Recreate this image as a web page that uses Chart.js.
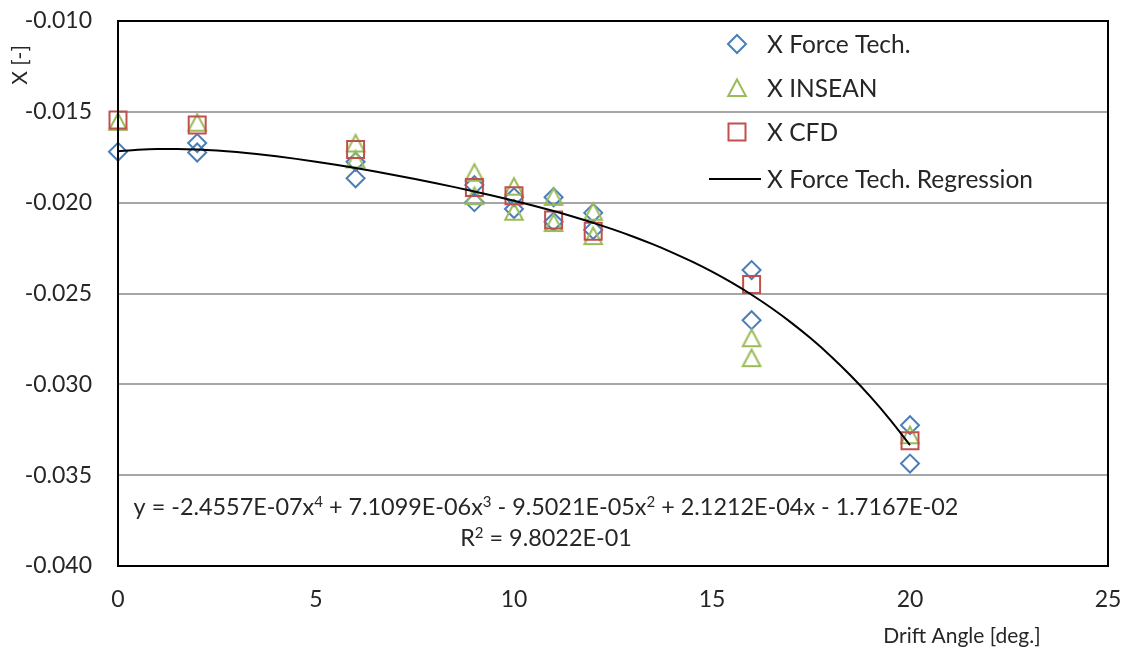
<!DOCTYPE html>
<html>
<head>
<meta charset="utf-8">
<script src="https://cdn.jsdelivr.net/npm/chart.js@4/dist/chart.umd.min.js"></script>
<style>
  html, body { margin: 0; padding: 0; background: #ffffff; }
  #wrap { width: 1128px; height: 649px; }
</style>
</head>
<body>
<div id="wrap"><canvas id="c" width="1128" height="649"></canvas></div>
<script>
// Surge force coefficient X versus drift angle, three data sources.
const forceTechAngle = [0, 2, 2, 6, 6, 9, 9, 10, 10, 11, 11, 12, 12, 16, 16, 20, 20];
const forceTechX = [-0.0172, -0.01672, -0.01724, -0.01775, -0.01866, -0.01903, -0.01997,
  -0.0197, -0.02035, -0.0197, -0.02105, -0.02056, -0.0215, -0.02371, -0.02647, -0.03225, -0.03436];

const inseanAngle = [0, 2, 6, 6, 9, 9, 10, 10, 11, 11, 12, 12, 16, 16, 20];
const inseanX = [-0.01555, -0.0156, -0.01674, -0.01762, -0.01835, -0.01964, -0.01912, -0.0205,
  -0.01968, -0.02112, -0.0205, -0.02184, -0.02746, -0.02856, -0.0328];

const cfdAngle = [0, 2, 6, 9, 10, 11, 12, 16, 20];
const cfdX = [-0.01545, -0.01573, -0.01707, -0.01916, -0.01962, -0.02096, -0.02157, -0.0245, -0.03311];

// 4th-order polynomial regression of the Force Tech. data (highest power first) and its R².
const trendCoefficients = [-2.4557E-07, 7.1099E-06, -9.5021E-05, 2.1212E-04, -1.7167E-02];
const trendRSquared = 9.8022E-01;
const trendAngles = [0, 0.5, 1, 1.5, 2, 2.5, 3, 3.5, 4, 4.5, 5, 5.5, 6, 6.5, 7, 7.5, 8, 8.5, 9, 9.5,
  10, 10.5, 11, 11.5, 12, 12.5, 13, 13.5, 14, 14.5, 15, 15.5, 16, 16.5, 17, 17.5, 18, 18.5, 19, 19.5, 20];

const seriesNames = ['X Force Tech.', 'X INSEAN', 'X CFD', 'X Force Tech. Regression'];
const xTickValues = [0, 5, 10, 15, 20, 25];
const yTickValues = [-0.040, -0.035, -0.030, -0.025, -0.020, -0.015, -0.010];
const xAxisTitle = 'Drift Angle [deg.]';
const yAxisTitle = 'X [-]';

const BLUE = '#4a7ebb';
const GREEN = '#9bbb59';
const RED = '#c0504d';
const TEXT = '#262626';
const FONT = 'Lato, "Open Sans", sans-serif';
const TICK_SIZE = 23;
const LEGEND_SIZE = 24.5;
const EQ_SIZE = 23.4;
const TITLE_SIZE = 21;

function evalTrend(x) {
  return trendCoefficients.reduce((acc, c) => acc * x + c, 0);
}
function pairs(xs, ys) { return xs.map((x, i) => ({ x, y: ys[i] })); }

// Hollow triangle centred on its own box.
function makeTriangle(color) {
  const cv = document.createElement('canvas');
  cv.width = 24; cv.height = 24;
  const g = cv.getContext('2d');
  g.strokeStyle = color; g.lineWidth = 2; g.lineJoin = 'miter';
  g.beginPath();
  g.moveTo(12, 3.5); g.lineTo(20.8, 20); g.lineTo(3.2, 20); g.closePath();
  g.stroke();
  return cv;
}
const triangleImg = makeTriangle(GREEN);

function fmtE(v) {
  const [m, e] = Math.abs(v).toExponential(4).split('e');
  const en = parseInt(e, 10);
  const es = (en < 0 ? '-' : '+') + String(Math.abs(en)).padStart(2, '0');
  return m + 'E' + es;
}

function equationSegments() {
  const n = trendCoefficients.length - 1;
  const segs = [{ t: 'y = ' }];
  trendCoefficients.forEach((c, i) => {
    const p = n - i;
    const sign = c < 0 ? '-' : '+';
    if (i === 0) segs.push({ t: (c < 0 ? '-' : '') + fmtE(c) });
    else segs.push({ t: ' ' + sign + ' ' + fmtE(c) });
    if (p >= 1) segs.push({ t: 'x' });
    if (p >= 2) segs.push({ t: String(p), sup: true });
  });
  return segs;
}

function drawRich(ctx, segs, cx, cy, size) {
  const big = size + 'px ' + FONT;
  const small = Math.round(size * 0.62) + 'px ' + FONT;
  let w = 0;
  segs.forEach(s => { ctx.font = s.sup ? small : big; s.w = ctx.measureText(s.t).width; w += s.w; });
  let x = cx - w / 2;
  ctx.textAlign = 'left';
  ctx.textBaseline = 'alphabetic';
  const base = cy + size * 0.36;
  segs.forEach(s => {
    ctx.font = s.sup ? small : big;
    ctx.fillText(s.t, x, s.sup ? base - size * 0.38 : base);
    x += s.w;
  });
}

const decorations = {
  id: 'decorations',
  afterDatasetsDraw(chart) {
    const ctx = chart.ctx;
    const a = chart.chartArea;
    ctx.save();
    // plot frame
    ctx.strokeStyle = '#000000';
    ctx.lineWidth = 2;
    ctx.strokeRect(a.left, a.top, a.right - a.left, a.bottom - a.top);

    ctx.fillStyle = TEXT;
    // regression equation and R²
    drawRich(ctx, equationSegments(), 546, 507, EQ_SIZE);
    drawRich(ctx, [{ t: 'R' }, { t: '2', sup: true }, { t: ' = ' + fmtE(trendRSquared) }], 546, 538, EQ_SIZE);

    // legend
    ctx.font = LEGEND_SIZE + 'px ' + FONT;
    ctx.textAlign = 'left';
    ctx.textBaseline = 'middle';
    const lx = 737, tx = 767;
    const rows = [44, 88, 132, 179];
    ctx.lineWidth = 2;
    // diamond
    ctx.strokeStyle = BLUE;
    ctx.beginPath();
    ctx.moveTo(lx - 9, rows[0]); ctx.lineTo(lx, rows[0] - 9); ctx.lineTo(lx + 9, rows[0]); ctx.lineTo(lx, rows[0] + 9);
    ctx.closePath(); ctx.stroke();
    // triangle
    ctx.drawImage(triangleImg, lx - 12, rows[1] - 12);
    // square
    ctx.strokeStyle = RED;
    ctx.strokeRect(lx - 8.5, rows[2] - 8.5, 17, 17);
    // line
    ctx.strokeStyle = '#000000';
    ctx.beginPath(); ctx.moveTo(709, rows[3]); ctx.lineTo(761, rows[3]); ctx.stroke();
    seriesNames.forEach((name, i) => ctx.fillText(name, tx, rows[i] + 1));

    // axis titles
    ctx.font = TITLE_SIZE + 'px ' + FONT;
    ctx.textAlign = 'center';
    ctx.fillText(xAxisTitle, 962, 636);
    ctx.save();
    ctx.translate(20, 65);
    ctx.rotate(-Math.PI / 2);
    ctx.fillText(yAxisTitle, 0, 0);
    ctx.restore();
    ctx.restore();
  }
};

new Chart(document.getElementById('c'), {
  type: 'scatter',
  data: {
    datasets: [
      {
        label: seriesNames[3],
        type: 'line',
        data: pairs(trendAngles, trendAngles.map(evalTrend)),
        borderColor: '#000000',
        borderWidth: 2,
        pointRadius: 0,
        cubicInterpolationMode: 'monotone',
        fill: false,
        order: 0
      },
      {
        label: seriesNames[2],
        data: pairs(cfdAngle, cfdX),
        pointStyle: 'rect',
        pointRadius: 12,
        borderColor: RED,
        backgroundColor: 'rgba(0,0,0,0)',
        borderWidth: 2,
        clip: false,
        order: 1
      },
      {
        label: seriesNames[1],
        data: pairs(inseanAngle, inseanX),
        pointStyle: triangleImg,
        pointRadius: 12,
        borderColor: GREEN,
        backgroundColor: 'rgba(0,0,0,0)',
        clip: false,
        order: 2
      },
      {
        label: seriesNames[0],
        data: pairs(forceTechAngle, forceTechX),
        pointStyle: 'rectRot',
        pointRadius: 9,
        borderColor: BLUE,
        backgroundColor: 'rgba(0,0,0,0)',
        borderWidth: 2,
        clip: false,
        order: 3
      }
    ]
  },
  options: {
    responsive: false,
    animation: false,
    devicePixelRatio: 1,
    events: [],
    layout: { padding: { left: 0, top: 21, right: 20, bottom: 0 } },
    plugins: { legend: { display: false }, tooltip: { enabled: false } },
    scales: {
      x: {
        type: 'linear',
        min: 0, max: 25,
        afterFit(s) { s.height = 83; s.paddingLeft = 0; s.paddingRight = 0; },
        afterBuildTicks(s) { s.ticks = xTickValues.map(v => ({ value: v })); },
        ticks: { color: TEXT, font: { family: FONT, size: TICK_SIZE }, padding: 20, maxRotation: 0,
          callback: v => String(v) },
        grid: { display: false, drawTicks: false },
        border: { display: true, color: '#000000', width: 2 }
      },
      y: {
        type: 'linear',
        min: -0.040, max: -0.010,
        afterFit(s) { s.width = 118; s.paddingTop = 0; s.paddingBottom = 0; },
        afterBuildTicks(s) { s.ticks = yTickValues.map(v => ({ value: v })); },
        ticks: { color: TEXT, font: { family: FONT, size: TICK_SIZE }, padding: 26,
          callback: v => Number(v).toFixed(3) },
        grid: { color: '#a6a6a6', lineWidth: 2, drawTicks: false },
        border: { display: true, color: '#000000', width: 2 }
      }
    }
  },
  plugins: [decorations]
});
</script>
</body>
</html>
